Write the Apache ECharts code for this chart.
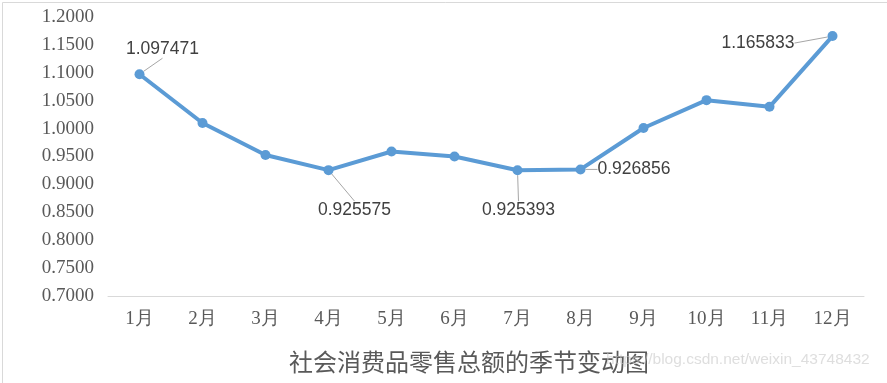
<!DOCTYPE html>
<html>
<head>
<meta charset="utf-8">
<script src="https://cdn.jsdelivr.net/npm/echarts@6/dist/echarts.min.js"></script>
<style>
html,body{margin:0;padding:0;background:#fff;}
#c{width:887px;height:383px;}
</style>
</head>
<body>
<div id="c"></div>
<script>
const categories = ['1月','2月','3月','4月','5月','6月','7月','8月','9月','10月','11月','12月'];
const values = [1.097471, 1.010, 0.9527, 0.925575, 0.959, 0.950, 0.925393, 0.926856, 1.001, 1.051, 1.039, 1.165833];
const labeledIdx = [0, 3, 6, 7, 11];
const labelPos = {0:'top', 3:'bottom', 6:'bottom', 7:'right', 11:'left'};
const labelShift = {0:[23,-6], 3:[26,21], 6:[1,21], 7:[7,0], 11:[-28,7]};
const title = '社会消费品零售总额的季节变动图';
const watermark = 'https://blog.csdn.net/weixin_43748432';

const seriesData = values.map((v, i) => {
  if (labeledIdx.indexOf(i) >= 0) {
    return { value: v, label: { show: true, position: labelPos[i] } };
  }
  return { value: v };
});

const chart = echarts.init(document.getElementById('c'));
chart.setOption({
  animation: false,
  backgroundColor: '#fff',
  title: {
    text: title,
    left: 284,
    top: 345,
    textStyle: { fontFamily: 'Noto Sans CJK SC', fontSize: 24, fontWeight: 'normal', color: '#595959' }
  },
  graphic: [
    { type: 'rect', left: 0, top: 0, shape: { width: 886, height: 382 }, style: { fill: 'none', stroke: '#d9d9d9', lineWidth: 1 }, silent: true, z: -1 },
    { type: 'text', left: 606, top: 352, style: { text: watermark, fontFamily: 'Liberation Sans', fontSize: 15.5, fill: 'rgba(200,200,200,0.6)' }, silent: true, z: 10 }
  ],
  grid: { left: 108, right: 23, top: 17, bottom: 87, containLabel: false },
  xAxis: {
    type: 'category',
    data: categories,
    boundaryGap: true,
    axisLine: { show: true, lineStyle: { color: '#d9d9d9', width: 1 } },
    axisTick: { show: false },
    axisLabel: { margin: 14, fontFamily: 'Liberation Serif', fontSize: 19, color: '#595959' },
    splitLine: { show: false }
  },
  yAxis: {
    type: 'value',
    min: 0.7,
    max: 1.2,
    interval: 0.05,
    axisLine: { show: false },
    axisTick: { show: false },
    splitLine: { show: false },
    axisLabel: {
      margin: 14,
      fontFamily: 'Liberation Serif',
      fontSize: 19,
      color: '#595959',
      formatter: v => v.toFixed(4)
    }
  },
  series: [{
    type: 'line',
    data: seriesData,
    symbol: 'circle',
    symbolSize: 10,
    lineStyle: { color: '#5b9bd5', width: 4 },
    itemStyle: { color: '#5b9bd5' },
    label: {
      show: false,
      fontFamily: 'Liberation Sans',
      fontSize: 17.5,
      color: '#404040',
      formatter: p => String(p.value)
    },
    labelLine: { show: true, lineStyle: { color: '#a6a6a6', width: 1 } },
    labelLayout: function (params) {
      const s = labelShift[params.dataIndex];
      if (!s) return {};
      return { dx: s[0], dy: s[1] };
    }
  }]
});
</script>
</body>
</html>
